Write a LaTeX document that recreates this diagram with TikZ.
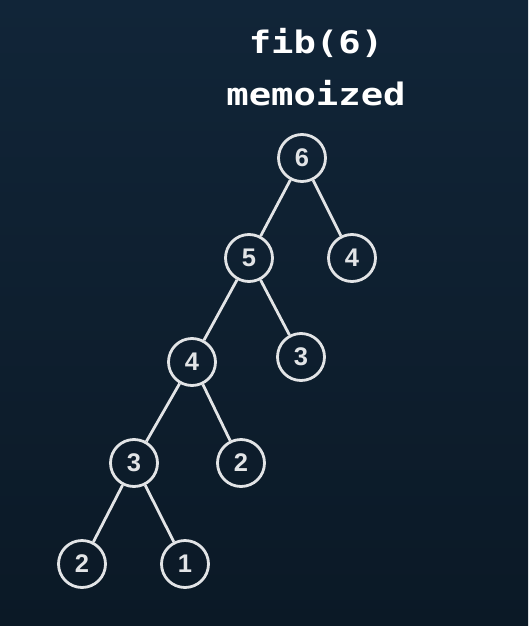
\documentclass[tikz,border=0pt]{standalone}
\usepackage{fontspec}
\usepackage{xcolor}
\setmainfont{Liberation Sans}
\newfontfamily\codefont{DejaVu Sans Mono}
\definecolor{bgtop}{HTML}{112538}
\definecolor{bgbot}{HTML}{0B1926}
\definecolor{chalk}{HTML}{E2E4E6}

\begin{document}
\begin{tikzpicture}[x=1pt,y=-1pt,
    fibnode/.style={circle,draw=chalk,line width=2.8pt,minimum size=47pt,inner sep=0pt,
        text=chalk,font=\bfseries\fontsize{25.5}{25.5}\selectfont},
    title/.style={anchor=base,text=white,xscale=1.2,font=\codefont\bfseries\fontsize{31}{31}\selectfont}]
    \shade[top color=bgtop,bottom color=bgbot] (0,0) rectangle (528,626);
    \useasboundingbox (0,0) rectangle (528,626);
\node[title] (t1) at (316,53) {fib(6)};
\node[title] (t2) at (316,105) {memoized};
\node[fibnode] (n6) at (302,158) {6};
\node[fibnode] (n5) at (249,258) {5};
\node[fibnode] (n4b) at (352,258) {4};
\node[fibnode] (n4) at (192,362) {4};
\node[fibnode] (n3b) at (301,357) {3};
\node[fibnode] (n3) at (134,463) {3};
\node[fibnode] (n2b) at (241,463) {2};
\node[fibnode] (n2) at (82,564) {2};
\node[fibnode] (n1) at (185,564) {1};
\draw[chalk,line width=2.8pt] (n6) -- (n5);
\draw[chalk,line width=2.8pt] (n6) -- (n4b);
\draw[chalk,line width=2.8pt] (n5) -- (n4);
\draw[chalk,line width=2.8pt] (n5) -- (n3b);
\draw[chalk,line width=2.8pt] (n4) -- (n3);
\draw[chalk,line width=2.8pt] (n4) -- (n2b);
\draw[chalk,line width=2.8pt] (n3) -- (n2);
\draw[chalk,line width=2.8pt] (n3) -- (n1);
\end{tikzpicture}
\end{document}
